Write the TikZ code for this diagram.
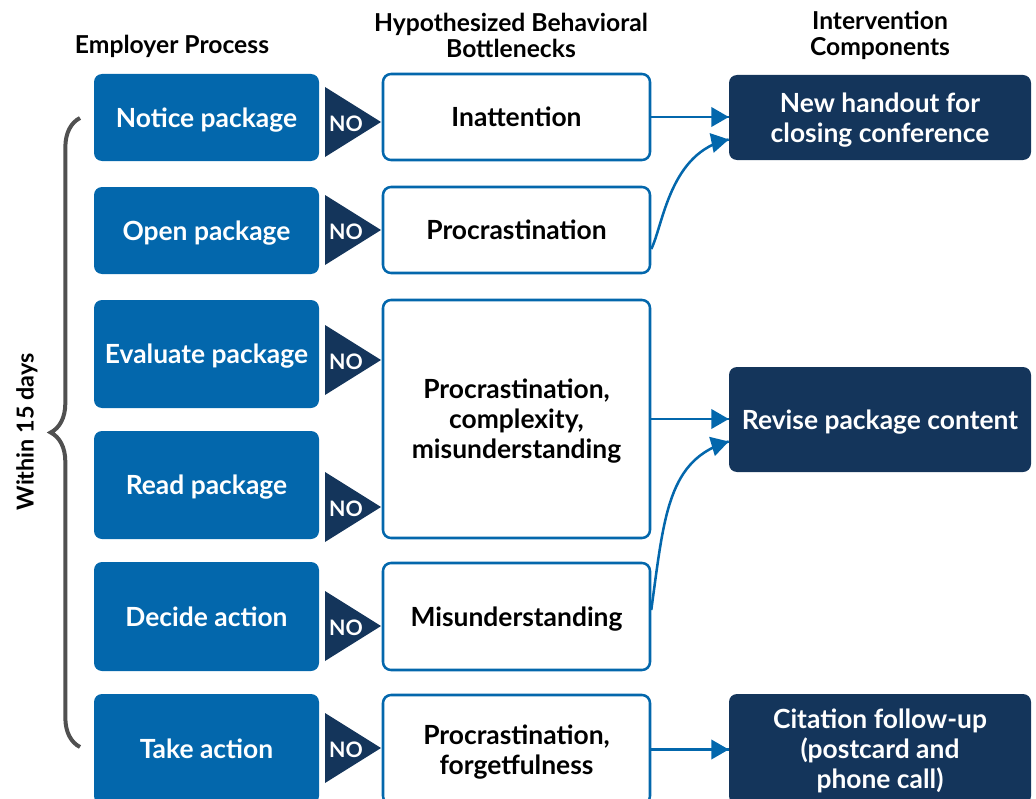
\documentclass[tikz,border=0pt]{standalone}
\usepackage{fontspec}
\setmainfont{Lato}
\usetikzlibrary{arrows}
\usetikzlibrary{calc}
\usetikzlibrary{decorations.markings}
\usetikzlibrary{decorations.pathreplacing}
\definecolor{procblue}{RGB}{3,103,172}
\definecolor{navy}{RGB}{20,53,91}
\definecolor{braceg}{RGB}{80,80,80}
\newcommand{\pxu}{0.75pt}
\tikzset{link/.style = {draw=procblue, line width=1.9pt,
                        decoration={markings,
                                    mark=at position 0.9999 with {\arrow[scale=1.25]{triangle 60}}},
                        postaction={decorate}}}
\tikzset{proc/.style = {fill=procblue, rounded corners=6pt, text=white, align=center,
                        text depth=0pt, minimum width=225*\pxu,
                        font=\bfseries\fontsize{19.8}{22.5}\selectfont}}
\tikzset{neck/.style = {draw=procblue, line width=1.9pt, fill=white, rounded corners=6pt,
                        align=center, text depth=0pt, minimum width=267*\pxu,
                        font=\bfseries\fontsize{19.8}{22.5}\selectfont}}
\tikzset{fix/.style = {fill=navy, rounded corners=6pt, text=white, align=center,
                       text depth=0pt, minimum width=302*\pxu,
                       font=\bfseries\fontsize{19.8}{22.5}\selectfont}}
\tikzset{head/.style = {align=center, font=\bfseries\fontsize{18.5}{19.5}\selectfont}}
\tikzset{nolabel/.style = {text=white, inner sep=0, font=\bfseries\fontsize{16}{16}\selectfont}}

\begin{document}
\begin{tikzpicture}[x=\pxu, y=-\pxu]
  \useasboundingbox (0, 0) rectangle (1036, 799);
  \clip (0, 0) rectangle (1036, 799);

  \node [head] (hproc) at (172, 46) {Employer Process};
  \node [head] (hneck) at (511, 35) {Hypothesized Behavioral\\Bottlenecks};
  \node [head] (hfix) at (880, 35) {Intervention\\Components};

  \node [proc, minimum height=87*\pxu] (notice) at (206.5, 117.5) {Notice package};
  \node [proc, minimum height=87*\pxu] (open) at (206.5, 230.5) {Open package};
  \node [proc, minimum height=108*\pxu] (evaluate) at (206.5, 354) {Evaluate package};
  \node [proc, minimum height=108*\pxu] (read) at (206.5, 485) {Read package};
  \node [proc, minimum height=109*\pxu] (decide) at (206.5, 616.5) {Decide action};
  \node [proc, minimum height=110*\pxu] (take) at (206.5, 749) {Take action};

  \foreach \t in {122, 230, 360, 507, 626, 748} {
    \fill [navy] (325, \t-35) -- (381, \t) -- (325, \t+35) -- cycle;
    \node [nolabel] (no\t) at (346, \t+2) {NO};
  }

  \node [neck, minimum height=86*\pxu] (inatt) at (516.5, 117) {Inattention};
  \node [neck, minimum height=86*\pxu] (procr) at (516.5, 230) {Procrastination};
  \node [neck, minimum height=238*\pxu] (complex) at (516.5, 419)
        {Procrastination,\\complexity,\\misunderstanding};
  \node [neck, minimum height=107*\pxu] (misund) at (516.5, 616.5) {Misunderstanding};
  \node [neck, minimum height=109*\pxu] (forget) at (516.5, 749.5)
        {Procrastination,\\forgetfulness};

  \node [fix, minimum height=85*\pxu] (handout) at (880, 117.5)
        {New handout for\\closing conference};
  \node [fix, minimum height=105*\pxu] (revise) at (880, 419.5) {Revise package content};
  \node [fix, minimum height=110*\pxu] (citation) at (880, 749)
        {Citation follow-up\\(postcard and\\phone call)};

  \draw [link] (inatt.east) -- (inatt.east -| handout.west);
  \draw [link] ($(procr.east) + (0, 19)$) .. controls +(12, -24) and +(-59, 12)
        .. ($(handout.west) + (0, 22)$);
  \draw [link] (complex.east) -- (complex.east -| revise.west);
  \draw [link] ($(misund.east) + (0, -6.5)$) .. controls +(13, -95) and +(-61, 18)
        .. ($(revise.west) + (0, 22)$);
  \draw [link] (forget.east) -- (forget.east -| citation.west);

  \draw [braceg, line width=3pt, decorate, decoration={brace, amplitude=22pt}]
        (80, 747) -- (80, 118);
  \node [head, rotate=90, font=\bfseries\fontsize{17.5}{19.5}\selectfont] (within)
        at (27, 432) {Within 15 days};
\end{tikzpicture}
\end{document}
